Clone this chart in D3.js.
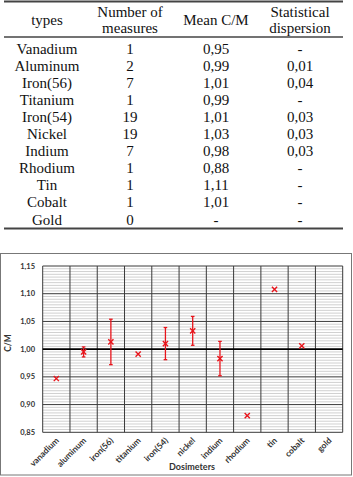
<!DOCTYPE html>
<html><head><meta charset="utf-8">
<script src="https://cdn.jsdelivr.net/npm/d3@7"></script>
<style>body{margin:0;background:#fff}svg{display:block}</style>
</head><body>
<script>
// Table data
const headers = [["types"], ["Number of", "measures"], ["Mean C/M"], ["Statistical", "dispersion"]];
const types = ["Vanadium","Aluminum","Iron(56)","Titanium","Iron(54)","Nickel","Indium","Rhodium","Tin","Cobalt","Gold"];
const measures = ["1","2","7","1","19","19","7","1","1","1","0"];
const meanCM = ["0,95","0,99","1,01","0,99","1,01","1,03","0,98","0,88","1,11","1,01","-"];
const dispersion = ["-","0,01","0,04","-","0,03","0,03","0,03","-","-","-","-"];

// Chart data
const categories = ["vanadium","aluminum","iron(56)","titanium","iron(54)","nickel","indium","rhodium","tin","cobalt","gold"];
const cmValues = [0.947, 0.995, 1.013, 0.991, 1.010, 1.033, 0.983, 0.880, 1.108, 1.006, null];
const errValues = [0, 0.009, 0.041, 0, 0.029, 0.026, 0.031, 0, 0, 0, 0];
const yTicks = [0.85, 0.90, 0.95, 1.00, 1.05, 1.10, 1.15];

const W = 353, H = 477;
const SERIF = "Liberation Serif";
const SANS = "Lato";
const svg = d3.select("body").append("svg").attr("width", W).attr("height", H);

// ---- Table ----
const colCenters = [47, 130, 216, 300];
const tbl = svg.append("g");
tbl.append("line").attr("x1", 4).attr("x2", 343).attr("y1", 1.5).attr("y2", 1.5).attr("stroke", "#444").attr("stroke-width", 2);
tbl.append("line").attr("x1", 4).attr("x2", 343).attr("y1", 37).attr("y2", 37).attr("stroke", "#444").attr("stroke-width", 1.5);
tbl.append("line").attr("x1", 4).attr("x2", 343).attr("y1", 228.5).attr("y2", 228.5).attr("stroke", "#444").attr("stroke-width", 2);
headers.forEach((h, i) => {
  const t = tbl.append("text").attr("text-anchor", "middle").attr("x", colCenters[i])
    .attr("font-family", SERIF).attr("font-size", 15).attr("fill", "#111");
  if (h.length === 1) {
    t.attr("y", 20).attr("dy", "0.35em").text(h[0]);
  } else {
    h.forEach((line, j) => t.append("tspan").attr("x", colCenters[i]).attr("y", 11.5 + j * 16.5).attr("dy", "0.35em").text(line));
  }
});
const rowY = d3.scaleLinear().domain([0, types.length - 1]).range([48.3, 219.3]);
const cols = [types, measures, meanCM, dispersion];
cols.forEach((col, ci) => {
  tbl.selectAll(null).data(col).enter().append("text")
    .attr("x", colCenters[ci]).attr("y", (d, i) => rowY(i)).attr("dy", "0.35em")
    .attr("font-family", SERIF).attr("font-size", 15).attr("fill", "#111")
    .attr("text-anchor", "middle").text(d => d);
});

// ---- Chart ----
svg.append("rect").attr("x", 0.5).attr("y", 253.5).attr("width", 351).attr("height", 221.5)
  .attr("fill", "none").attr("stroke", "#777").attr("stroke-width", 1);

const x = d3.scaleBand().domain(categories).range([42.7, 342.7]).padding(0);
const y = d3.scaleLinear().domain([0.85, 1.15]).range([432.3, 266]);

const g = svg.append("g");
// minor gridlines
const minor = d3.range(0, 61).map(i => 0.85 + i * 0.005).filter((v, i) => i % 10 !== 0);
g.selectAll(".minor").data(minor).enter().append("line")
  .attr("x1", x.range()[0]).attr("x2", x.range()[1])
  .attr("y1", d => y(d)).attr("y2", d => y(d))
  .attr("stroke", "#c4c4c4").attr("stroke-width", 0.8);
// vertical gridlines
const vx = categories.map(c => x(c)).concat([x.range()[1]]);
g.selectAll(".vg").data(vx).enter().append("line")
  .attr("x1", d => d).attr("x2", d => d).attr("y1", y(1.15)).attr("y2", y(0.85))
  .attr("stroke", "#3a3a3a").attr("stroke-width", 1);
// major gridlines
g.selectAll(".major").data(yTicks).enter().append("line")
  .attr("x1", x.range()[0]).attr("x2", x.range()[1])
  .attr("y1", d => y(d)).attr("y2", d => y(d))
  .attr("stroke", d => Math.abs(d - 1) < 1e-9 ? "#000" : "#3a3a3a")
  .attr("stroke-width", d => Math.abs(d - 1) < 1e-9 ? 1.6 : 1);

const sans = sel => sel.attr("font-family", SANS).attr("font-weight", "bold").attr("fill", "#333");

// y axis labels
const fmt = d => d.toFixed(2).replace(".", ",");
g.selectAll(".yt").data(yTicks).enter().append("text")
  .attr("x", 35).attr("y", d => y(d)).attr("dy", "0.35em").attr("text-anchor", "end")
  .attr("font-size", 7.5).call(sans).text(fmt);

// x labels
g.selectAll(".xt").data(categories).enter().append("text")
  .attr("transform", d => `translate(${x(d) + x.bandwidth() / 2 + 1},${439}) rotate(-45)`)
  .attr("text-anchor", "end").attr("dy", "0.35em")
  .attr("font-size", 8.5).call(sans).text(d => d);

// axis titles
g.append("text").attr("x", 192).attr("y", 467).attr("text-anchor", "middle").attr("dy", "0.35em")
  .attr("font-size", 9).call(sans).text("Dosimeters");
g.append("text").attr("transform", `translate(8,343) rotate(-90)`).attr("text-anchor", "middle").attr("dy", "0.35em")
  .attr("font-size", 8.5).call(sans).text("C/M");

// error bars and markers
const pts = categories.map((c, i) => ({c, v: cmValues[i], e: errValues[i]})).filter(d => d.v != null);
const red = "#e8141b";
const eb = g.selectAll(".eb").data(pts.filter(d => d.e > 0)).enter().append("g");
eb.append("line").attr("x1", d => x(d.c) + x.bandwidth() / 2).attr("x2", d => x(d.c) + x.bandwidth() / 2)
  .attr("y1", d => y(d.v + d.e)).attr("y2", d => y(d.v - d.e)).attr("stroke", red).attr("stroke-width", 1.3);
[1, -1].forEach(s => {
  eb.append("line").attr("x1", d => x(d.c) + x.bandwidth() / 2 - 1.8).attr("x2", d => x(d.c) + x.bandwidth() / 2 + 1.8)
    .attr("y1", d => y(d.v + s * d.e)).attr("y2", d => y(d.v + s * d.e)).attr("stroke", red).attr("stroke-width", 1.3);
});
const mk = g.selectAll(".mk").data(pts).enter().append("g")
  .attr("transform", d => `translate(${x(d.c) + x.bandwidth() / 2},${y(d.v)})`);
mk.append("path").attr("d", "M-2.6,-2.6L2.6,2.6M-2.6,2.6L2.6,-2.6").attr("stroke", red).attr("stroke-width", 1.4).attr("fill", "none");
</script>
</body></html>
